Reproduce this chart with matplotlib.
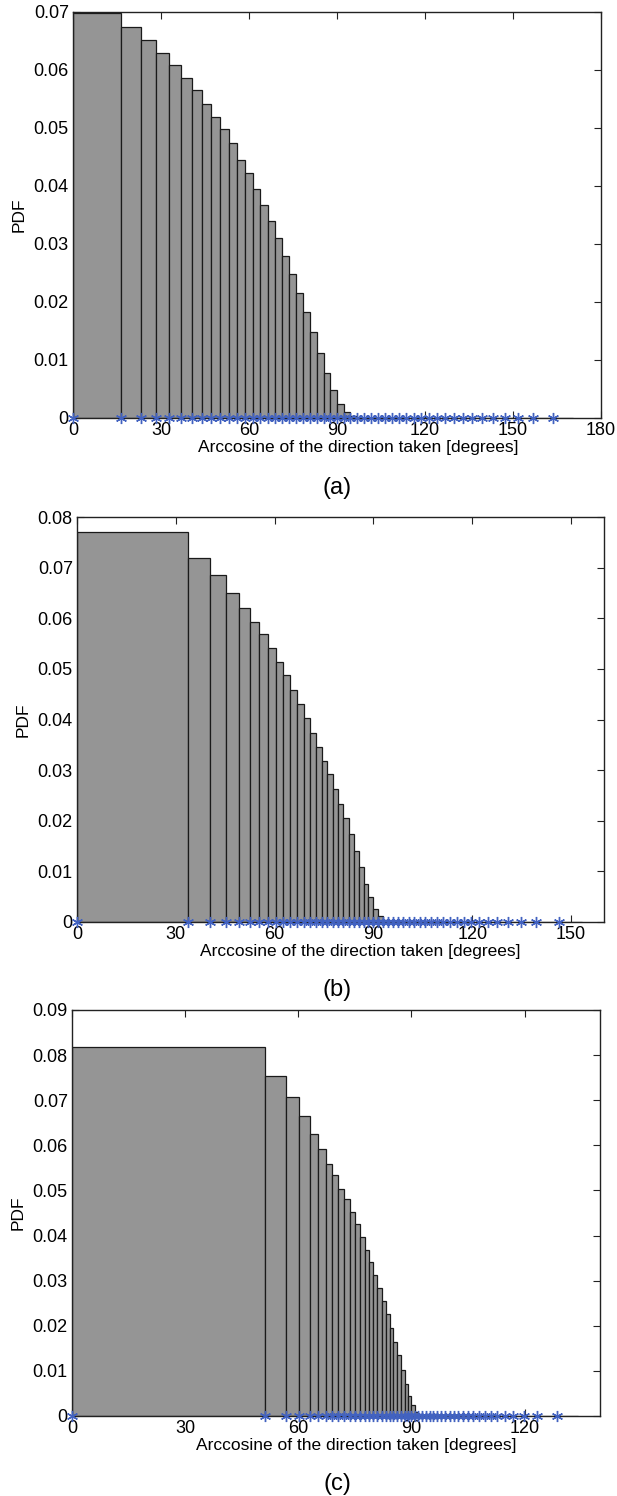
import numpy as np
import matplotlib
matplotlib.use("Agg")
import matplotlib.pyplot as plt

plt.rcParams['font.family'] = ['Liberation Sans', 'DejaVu Sans']

# bin edges (degrees), one star per edge
edges_a = [0, 16.26, 23.07, 28.36, 32.86, 36.87, 40.54, 43.95, 47.16, 50.21,
           53.13, 55.94, 58.67, 61.31, 63.90, 66.42, 68.90, 71.34, 73.74, 76.11,
           78.46, 80.79, 83.11, 85.41, 87.71, 90.00, 92.29, 94.59, 96.89, 99.21,
           101.54, 103.89, 106.26, 108.66, 111.10, 113.58, 116.10, 118.69, 121.33, 124.06,
           126.87, 129.79, 132.84, 136.05, 139.46, 143.13, 147.14, 151.64, 156.93, 163.74]
pdf_a = [0.0699, 0.0674, 0.0651, 0.0629, 0.0608, 0.0586, 0.0566, 0.0541, 0.0519, 0.0498,
         0.0474, 0.0445, 0.0423, 0.0395, 0.0367, 0.0339, 0.0311, 0.0280, 0.0249, 0.0216,
         0.0183, 0.0148, 0.0112, 0.0078, 0.0049, 0.0025, 0.0010, 0.0003, 0, 0,
         0, 0, 0, 0, 0, 0, 0, 0, 0, 0,
         0, 0, 0, 0, 0, 0, 0, 0, 0, 0]

edges_b = [0, 33.6, 40.5, 45.2, 49.1, 52.4, 55.3, 58.0, 60.3, 62.5,
           64.7, 66.8, 68.8, 70.7, 72.5, 74.3, 76.0, 77.7, 79.3, 80.9,
           82.5, 84.0, 85.5, 87.0, 88.5, 90.0, 91.5, 93.0, 94.5, 96.0,
           97.5, 99.1, 100.7, 102.3, 104.0, 105.7, 107.5, 109.3, 111.2, 113.2,
           115.3, 117.5, 119.7, 122.0, 124.7, 127.6, 130.9, 134.8, 139.5, 146.4]
pdf_b = [0.0770, 0.0720, 0.0685, 0.0650, 0.0621, 0.0593, 0.0569, 0.0541, 0.0514, 0.0487,
         0.0459, 0.0430, 0.0402, 0.0374, 0.0345, 0.0318, 0.0292, 0.0263, 0.0234, 0.0205,
         0.0174, 0.0141, 0.0108, 0.0076, 0.0049, 0.0026, 0.0011, 0.0004, 0, 0,
         0, 0, 0, 0, 0, 0, 0, 0, 0, 0,
         0, 0, 0, 0, 0, 0, 0, 0, 0, 0]

edges_c = [0, 51.3, 56.7, 60.2, 63.0, 65.3, 67.3, 69.0, 70.6, 72.2,
           73.7, 75.1, 76.4, 77.6, 78.8, 79.9, 81.0, 82.1, 83.2, 84.2,
           85.2, 86.2, 87.2, 88.2, 89.1, 90.0, 90.9, 91.8, 92.8, 93.8,
           94.8, 95.8, 96.8, 97.9, 99.0, 100.1, 101.2, 102.4, 103.6, 104.9,
           106.3, 107.8, 109.4, 111.0, 112.7, 114.7, 117.0, 119.8, 123.3, 128.7]
pdf_c = [0.0818, 0.0754, 0.0707, 0.0665, 0.0626, 0.0592, 0.0559, 0.0535, 0.0504, 0.0480,
         0.0453, 0.0425, 0.0396, 0.0369, 0.0341, 0.0313, 0.0283, 0.0256, 0.0226, 0.0196,
         0.0164, 0.0135, 0.0103, 0.0071, 0.0044, 0.0024, 0.0009, 0.0003, 0, 0,
         0, 0, 0, 0, 0, 0, 0, 0, 0, 0,
         0, 0, 0, 0, 0, 0, 0, 0, 0, 0]

xmax = [180, 160, 140]
ymax = [0.07, 0.08, 0.09]
captions = ["(a)", "(b)", "(c)"]

W, H = 617, 1496
# axes boxes in pixels: left, right, top, bottom
boxes = [(73, 601, 12, 418), (77, 604, 517, 922), (72, 600, 1010, 1416)]
caption_y = [488, 990, 1484]
xlabel_x = [358, 360, 356]  # label sits right of the axes centre

fig = plt.figure(figsize=(W / 100, H / 100), dpi=100)

panels = [(edges_a, pdf_a), (edges_b, pdf_b), (edges_c, pdf_c)]
for i, (edges, pdf) in enumerate(panels):
    l, r, t, b = boxes[i]
    ax = fig.add_axes([l / W, 1 - b / H, (r - l) / W, (b - t) / H])
    x = np.array(edges)
    # histc style: last bar takes the width of the one before
    widths = np.append(np.diff(x), x[-1] - x[-2])
    ax.bar(x, pdf, width=widths, align='edge', color='#959595',
           edgecolor='#1a1a1a', linewidth=0.9, zorder=2)
    ax.plot(x, np.zeros(len(x)), linestyle='none', marker=(6, 2, 0),
            markersize=8, markeredgewidth=1.0, color='#4262c0',
            clip_on=False, zorder=3)

    ax.set_xlim(0, xmax[i])
    ax.set_ylim(0, ymax[i])
    ax.set_xticks(np.arange(0, xmax[i] + 1, 30))
    yt = np.arange(0, ymax[i] + 1e-9, 0.01)
    ax.set_yticks(yt)
    ax.set_yticklabels(["0"] + ["%.2f" % v for v in yt[1:]])
    ax.tick_params(direction='in', top=True, right=True, length=5,
                   width=0.8, labelsize=13, pad=3, color='#222222')
    for s in ax.spines.values():
        s.set_linewidth(1.0)
        s.set_color('#222222')
    ax.set_xlabel("Arccosine of the direction taken [degrees]", fontsize=12.5,
                  labelpad=1)
    ax.xaxis.set_label_coords((xlabel_x[i] - l) / (r - l), -0.055)
    ax.set_ylabel("PDF", fontsize=12.5, labelpad=5)
    fig.text(337 / W, 1 - caption_y[i] / H, captions[i], fontsize=17,
             ha='center', va='center')

fig.savefig("out.png", dpi=100)
